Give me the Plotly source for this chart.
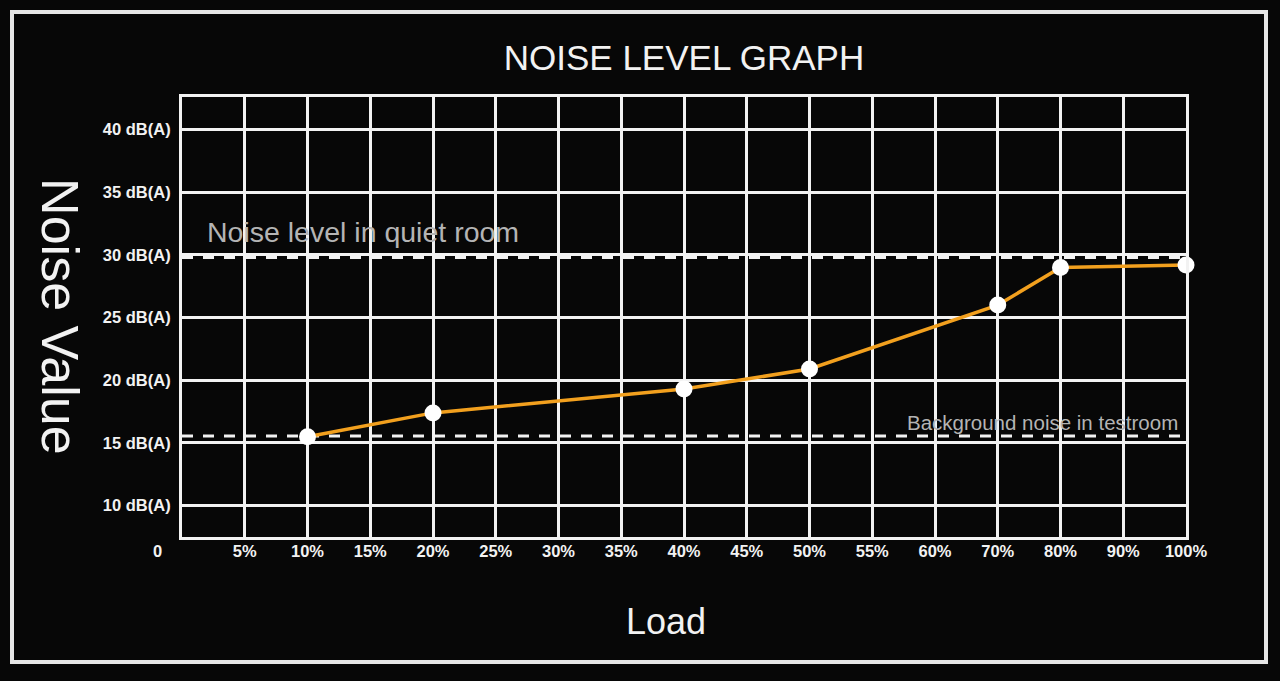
import plotly.graph_objects as go

# ---- data ----
load_labels = ["0", "5%", "10%", "15%", "20%", "25%", "30%", "35%", "40%",
               "45%", "50%", "55%", "60%", "70%", "80%", "90%", "100%"]
measured_loads = ["10%", "20%", "40%", "50%", "70%", "80%", "100%"]
noise_values = [15.5, 17.4, 19.3, 20.9, 26.0, 29.0, 29.2]
y_ticks = [10, 15, 20, 25, 30, 35, 40]
y_tick_labels = ["10 dB(A)", "15 dB(A)", "20 dB(A)", "25 dB(A)",
                 "30 dB(A)", "35 dB(A)", "40 dB(A)"]
quiet_room_level = 29.8
background_level = 15.55

BG = "#070707"
WHITE = "#f2f2f2"
ORANGE = "#f2a01e"
GREY = "#b4b4b4"
TICKFONT = dict(family="Liberation Sans, Arial", size=16.5,
                color=WHITE, weight="bold")

pos = {lab: i for i, lab in enumerate(load_labels)}
xs = [pos[l] for l in measured_loads]
n = len(load_labels) - 1

fig = go.Figure()

for lvl in (quiet_room_level, background_level):
    fig.add_trace(go.Scatter(x=[0, n], y=[lvl, lvl], mode="lines",
                             line=dict(color=WHITE, width=3, dash="11px,10px"),
                             hoverinfo="skip", showlegend=False))

fig.add_trace(go.Scatter(x=xs, y=noise_values, mode="lines+markers",
                         line=dict(color=ORANGE, width=3.5),
                         marker=dict(color="white", size=17),
                         cliponaxis=False, showlegend=False))

fig.update_xaxes(range=[0, n], tickmode="array",
                 tickvals=list(range(1, n + 1)), ticktext=load_labels[1:],
                 showgrid=True, gridcolor=WHITE, gridwidth=3,
                 showline=True, linecolor=WHITE, linewidth=3, mirror=True,
                 zeroline=False, tickfont=TICKFONT, ticks="", ticklabelstandoff=-3,
                 fixedrange=True)
fig.update_yaxes(range=[7.5, 42.6], tickmode="array", tickvals=y_ticks,
                 ticktext=y_tick_labels,
                 showgrid=True, gridcolor=WHITE, gridwidth=3,
                 showline=True, linecolor=WHITE, linewidth=3, mirror=True,
                 zeroline=False, tickfont=TICKFONT, ticks="", ticklabelstandoff=5,
                 fixedrange=True)

annotations = [
    dict(text="0", x=(157 - 182) / 1004, xref="paper", y=(537 - 551) / 440,
         yref="paper", showarrow=False,
         font=TICKFONT, xanchor="center", yanchor="middle"),
    dict(text="Noise level in quiet room", x=0.36, y=31.8, xref="x", yref="y",
         showarrow=False, xanchor="left", yanchor="middle",
         font=dict(family="Liberation Sans, Arial", size=28.5, color=GREY)),
    dict(text="Background noise in testroom", x=15.9, y=16.6, xref="x", yref="y",
         showarrow=False, xanchor="right", yanchor="middle",
         font=dict(family="Liberation Sans, Arial", size=20.5, color=GREY)),
    dict(text="Noise Value", x=-0.1215, y=0.502, xref="paper", yref="paper",
         showarrow=False, textangle=90, xanchor="center", yanchor="middle",
         font=dict(family="Liberation Sans, Arial", size=52, color=WHITE)),
    dict(text="Load", x=0.482, y=-0.193, xref="paper", yref="paper",
         showarrow=False, xanchor="center", yanchor="middle",
         font=dict(family="Liberation Sans, Arial", size=36, color=WHITE)),
]

shapes = [dict(type="rect", xref="paper", yref="paper",
               x0=(12 - 182) / 1004, x1=(1266 - 182) / 1004,
               y0=(537 - 662) / 440, y1=(537 - 12) / 440,
               line=dict(color="#e6e6e6", width=4), fillcolor="rgba(0,0,0,0)",
               layer="below")]

fig.update_layout(
    width=1280, height=681,
    margin=dict(l=182, r=94, t=97, b=144),
    paper_bgcolor=BG, plot_bgcolor=BG,
    title=dict(text="NOISE LEVEL GRAPH", x=0.5, xref="paper", xanchor="center",
               y=1 - 58 / 681, yref="container", yanchor="middle",
               font=dict(family="Liberation Sans, Arial", size=35, color=WHITE)),
    annotations=annotations, shapes=shapes, showlegend=False,
)

fig.write_html("out.html", config={"displayModeBar": False})
